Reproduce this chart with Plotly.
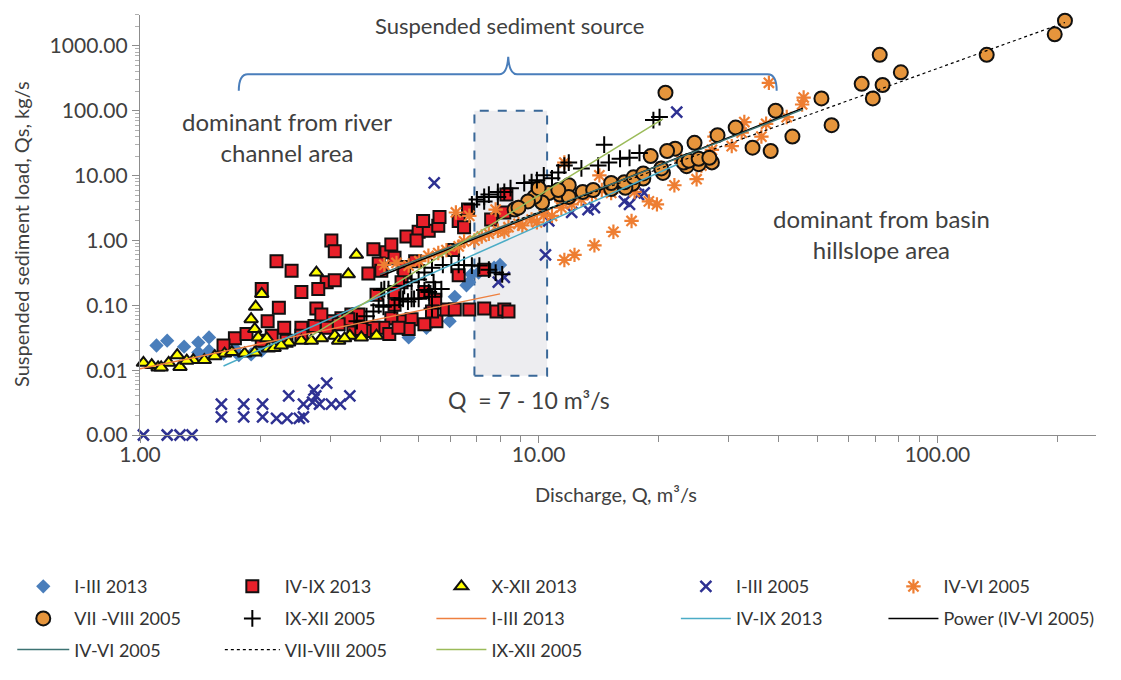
import plotly.graph_objects as go

# Discharge Q (m3/s) and suspended sediment load Qs (kg/s), one list of (Q, Qs) per period
i_iii_2013 = [(1.10, 0.024), (1.17, 0.0285), (1.29, 0.023), (1.40, 0.0266), (1.49, 0.032), (1.40, 0.0188),
              (1.49, 0.020), (1.62, 0.018), (1.73, 0.0216), (1.77, 0.017), (1.90, 0.0175), (2.02, 0.020),
              (4.72, 0.032), (5.23, 0.045), (5.98, 0.057), (6.16, 0.135), (6.59, 0.204), (6.69, 0.227),
              (6.78, 0.30), (7.07, 0.32), (7.73, 0.38), (8.0, 0.42)]

iv_ix_2013 = [(3.02, 1.0), (3.08, 0.68), (2.2, 0.48), (2.4, 0.34), (2.02, 0.178), (2.54, 0.16), (2.94, 0.227),
              (3.08, 0.243), (2.8, 0.178), (2.23, 0.092), (2.09, 0.057), (2.77, 0.089), (1.73, 0.031),
              (1.85, 0.036), (1.62, 0.024), (3.85, 0.73), (4.15, 0.66), (4.27, 0.87), (3.97, 0.44),
              (4.03, 0.34), (3.74, 0.31), (4.35, 0.54), (4.58, 0.39), (4.6, 0.32), (4.9, 0.48), (4.66, 1.15),
              (5.0, 1.36), (4.94, 1.0), (5.3, 1.41), (5.13, 2.0), (5.6, 1.68), (5.64, 2.3), (6.1, 0.71),
              (6.65, 3.0), (6.3, 2.0), (6.5, 1.6), (7.6, 2.1), (8.2, 2.7), (8.3, 5.1), (7.3, 0.355),
              (6.3, 0.29), (4.53, 0.227), (4.35, 0.16), (3.92, 0.145), (4.35, 0.102), (4.27, 0.063),
              (4.08, 0.045), (3.85, 0.045), (3.66, 0.040), (3.39, 0.072), (3.53, 0.072), (3.2, 0.063),
              (3.33, 0.061), (3.02, 0.057), (3.15, 0.051), (2.94, 0.045), (4.58, 0.057), (4.8, 0.061),
              (5.17, 0.051), (5.54, 0.057), (5.87, 0.086), (6.16, 0.086), (6.7, 0.086), (7.3, 0.089),
              (7.84, 0.080), (8.2, 0.086), (8.4, 0.080), (5.17, 0.16), (5.5, 0.122), (5.4, 0.080),
              (4.72, 0.043), (4.22, 0.036), (4.45, 0.045), (2.02, 0.0285), (2.3, 0.045), (2.54, 0.045),
              (2.74, 0.048), (2.85, 0.072), (2.54, 0.034), (2.33, 0.0285), (2.14, 0.034), (3.43, 0.038),
              (3.59, 0.043)]

x_xii_2013 = [(1.02, 0.013), (1.11, 0.011), (1.18, 0.013), (1.24, 0.017), (1.26, 0.0112), (1.36, 0.0143),
              (1.45, 0.0143), (2.02, 0.15), (1.95, 0.095), (1.9, 0.061), (1.94, 0.043), (1.98, 0.032),
              (2.08, 0.031), (2.77, 0.32), (3.33, 0.30), (2.36, 0.0266), (2.54, 0.0285), (2.85, 0.031),
              (3.08, 0.034), (3.36, 0.034), (1.63, 0.018), (1.83, 0.018), (1.94, 0.0188), (2.1, 0.0216),
              (2.17, 0.022), (3.49, 0.60), (3.15, 0.0285), (3.26, 0.031), (3.59, 0.032), (3.92, 0.034),
              (1.07, 0.012), (1.13, 0.011), (1.31, 0.014), (1.54, 0.0164), (1.7, 0.019), (2.26, 0.024),
              (2.69, 0.0285)]

i_iii_2005 = [(1.02, 0.001), (1.17, 0.001), (1.26, 0.001), (1.35, 0.001), (1.60, 0.0030), (1.60, 0.0019),
              (1.82, 0.0030), (1.82, 0.0019), (2.03, 0.0030), (2.03, 0.0019), (2.20, 0.0018), (2.34, 0.0018),
              (2.51, 0.0018), (2.36, 0.0040), (2.57, 0.0030), (2.57, 0.0019), (2.71, 0.0032), (2.73, 0.0049),
              (2.76, 0.0040), (2.94, 0.0063), (2.82, 0.0030), (3.02, 0.0030), (3.18, 0.0030), (3.36, 0.0040),
              (5.47, 7.7), (7.92, 0.227), (8.2, 0.27), (10.4, 0.60), (10.6, 2.0), (12.1, 2.7), (13.3, 3.0),
              (13.8, 3.2), (16.4, 4.0), (16.9, 3.6), (17.8, 5.1), (18.4, 5.4), (22.2, 95)]

iv_vi_2005 = [(4.72, 0.41), (5.02, 0.48), (5.29, 0.58), (5.6, 0.64), (5.87, 0.71), (6.3, 0.81), (6.5, 0.97),
              (6.9, 1.0), (7.5, 1.27), (7.9, 1.41), (8.4, 1.6), (8.9, 1.8), (9.6, 2.1), (10.3, 2.5), (11.4, 3.2),
              (12.1, 3.6), (6.2, 2.7), (6.7, 2.4), (7.8, 3.0), (8.9, 3.3), (11.4, 4.0), (11.6, 0.5), (12.3, 0.6),
              (13.8, 0.84), (15.4, 1.36), (17.1, 2.0), (19.8, 3.6), (11.6, 15.9), (14.2, 10.1), (15.2, 5.4),
              (17.4, 5.6), (18.9, 4.0), (21.9, 7.1), (25.6, 14.3), (27.6, 40), (32.8, 67), (37.8, 270),
              (45.8, 125), (46.2, 160), (37.2, 63), (32.3, 46), (27.2, 25), (24.9, 8.8), (7.2, 1.15),
              (8.2, 1.37), (9.1, 1.7), (9.9, 1.9), (10.8, 2.4), (12.8, 4.3), (13.6, 5.1), (14.4, 6.0),
              (16.1, 7.7), (18.1, 10.1), (20.3, 13.3), (22.8, 17), (30.5, 28.5), (36.2, 40), (41.9, 80),
              (4.1, 0.42), (4.4, 0.45)]

vii_viii_2005 = [(209, 2450), (197, 1510), (133, 730), (71.7, 730), (81, 392), (64.6, 260), (72.9, 250),
                 (68.9, 155), (51.2, 155), (54.3, 60), (43.3, 40), (39.3, 100), (20.8, 190), (34.4, 27),
                 (38.2, 24), (31.2, 55), (28.1, 42), (24.6, 32), (22.0, 26), (21.0, 24), (19.1, 20),
                 (27.2, 16), (25.2, 15), (23.5, 14), (20.5, 11), (18.3, 9), (17.2, 7.5), (16.5, 6.5),
                 (15.2, 6.2), (12.9, 5.6), (11.9, 7.1), (11.3, 5.1), (11.9, 4.7), (10.6, 5.4), (10.2, 3.85),
                 (9.76, 4.7), (8.7, 3.0), (9.4, 4.0), (8.9, 3.2), (10.0, 6.4), (11.2, 6.0), (13.7, 6.0),
                 (15.2, 7.7), (16.4, 7.9), (17.3, 9.4), (18.3, 10.8), (20.3, 12.9), (23.1, 15.9), (23.8, 17),
                 (25.2, 18.2), (26.8, 18.8)]

ix_xii_2005 = [(7.0, 4.3), (7.3, 4.7), (7.5, 5.1), (7.9, 5.6), (8.2, 5.6), (8.5, 6.4), (9.2, 7.7), (9.6, 7.9),
               (9.9, 8.5), (10.3, 10.1), (10.8, 9.1), (11.2, 11.2), (11.6, 14.3), (11.9, 15.9), (7.3, 4.0),
               (7.9, 4.7), (6.8, 3.6), (12.8, 12.9), (14.1, 14.3), (15.0, 15.9), (16.0, 18.2), (16.9, 18.8),
               (17.9, 22.4), (14.6, 30), (19.4, 72), (20.1, 80), (5.75, 0.42), (6.04, 0.42), (6.3, 0.42),
               (6.5, 0.42), (6.8, 0.41), (7.1, 0.41), (7.5, 0.355), (7.8, 0.32), (8.1, 0.30), (5.4, 0.38),
               (5.17, 0.32), (5.0, 0.25), (4.8, 0.227), (4.6, 0.2), (4.03, 0.172), (4.2, 0.178), (4.8, 0.126),
               (5.0, 0.126), (5.3, 0.16), (5.5, 0.178), (5.7, 0.178), (4.47, 0.122), (5.4, 0.135), (5.4, 0.089),
               (5.45, 0.227), (5.17, 0.172), (4.87, 0.126), (4.7, 0.114), (4.57, 0.126), (4.35, 0.1),
               (4.08, 0.095), (3.97, 0.1), (4.1, 0.178), (3.7, 0.068), (3.85, 0.08), (3.5, 0.057)]

# Power-law trend lines: end points (Q, Qs)
trend_i_iii_2013 = [(1.0, 0.0105), (8.0, 0.15)]
trend_iv_ix_2013 = [(1.62, 0.0116), (22.3, 15.0)]
power_iv_vi_2005 = [(4.0, 0.28), (46.0, 110.0)]
trend_iv_vi_2005 = [(4.0, 0.30), (46.0, 105.0)]
trend_vii_viii_2005 = [(8.5, 1.9), (209.0, 2300.0)]
trend_ix_xii_2005 = [(2.65, 0.032), (20.5, 75.0)]

# Axis ticks
x_major = [1, 10, 100]
x_major_text = ["1.00", "10.00", "100.00"]
x_minor = [2, 3, 4, 5, 6, 7, 8, 9, 20, 30, 40, 50, 60, 70, 80, 90, 200]
y_major = [0.001, 0.01, 0.1, 1, 10, 100, 1000]
y_major_text = ["0.00", "0.01", "0.10", "1.00", "10.00", "100.00", "1000.00"]
y_minor = [m * d for d in (0.001, 0.01, 0.1, 1, 10, 100, 1000) for m in range(2, 10) if m * d <= 3000]

FONT = "Lato, Carlito, Calibri, sans-serif"
TXT = "#404040"
AX = "#8C8C8C"

# plot-area pixel frame, used to place the free text, the brace and the legend entries
L_PX, R_PX, T_PX, B_PX = 138, 1096, 15, 447


def fx(px):
    return (px - L_PX) / (R_PX - L_PX)


def fy(py):
    return (B_PX - py) / (B_PX - T_PX)


def cols(pairs):
    return [p[0] for p in pairs], [p[1] for p in pairs]


# legend grid: column start x, symbol width, row centre y (pixels)
COL_X = [10, 218, 430, 675, 883]
COL_W = [52, 55, 50, 50, 50]
ROW_Y = [603, 636, 668]

fig = go.Figure()
legends = {}


def legend_slot(row, col):
    key = "legend" if not legends else f"legend{len(legends) + 1}"
    legends[key] = dict(orientation="v", xanchor="left", yanchor="middle",
                        x=fx(COL_X[col]), y=fy(ROW_Y[row]), itemwidth=COL_W[col],
                        bgcolor="rgba(0,0,0,0)", borderwidth=0,
                        font=dict(family=FONT, size=18, color="#333333"))
    return key


def add_points(pairs, name, marker, row, col):
    q, qs = cols(pairs)
    fig.add_trace(go.Scatter(x=q, y=qs, mode="markers", name=name, marker=marker,
                             legend=legend_slot(row, col), cliponaxis=False))


def add_trend(pairs, name, color, dash, row, col, width=1.5):
    q, qs = cols(pairs)
    fig.add_trace(go.Scatter(x=q, y=qs, mode="lines", name=name,
                             line=dict(color=color, width=width, dash=dash),
                             legend=legend_slot(row, col)))


add_points(i_iii_2013, "I-III 2013", dict(symbol="diamond", size=11, color="#4A7EBB"), 0, 0)
add_points(iv_ix_2013, "IV-IX 2013",
           dict(symbol="square", size=12, color="#E8202A", line=dict(color="#111111", width=2)), 0, 1)
add_points(x_xii_2013, "X-XII 2013",
           dict(symbol="triangle-up", size=12, color="#FFFF00", line=dict(color="#111111", width=2)), 0, 2)
add_points(i_iii_2005, "I-III 2005",
           dict(symbol="x-thin", size=11, color="#2E3192", line=dict(color="#2E3192", width=2.5)), 0, 3)
add_points(iv_vi_2005, "IV-VI 2005",
           dict(symbol="asterisk", size=12, color="#EE7E32", line=dict(color="#EE7E32", width=2.2)), 0, 4)
add_points(vii_viii_2005, "VII -VIII 2005",
           dict(symbol="circle", size=14, color="#E6953C", line=dict(color="#111111", width=2)), 1, 0)
add_points(ix_xii_2005, "IX-XII 2005",
           dict(symbol="cross-thin", size=12, color="#000000", line=dict(color="#000000", width=2)), 1, 1)

add_trend(trend_i_iii_2013, "I-III 2013", "#EE8040", "solid", 1, 2)
add_trend(trend_iv_ix_2013, "IV-IX 2013", "#4BACC6", "solid", 1, 3)
add_trend(power_iv_vi_2005, "Power (IV-VI 2005)", "#000000", "solid", 1, 4)
add_trend(trend_iv_vi_2005, "IV-VI 2005", "#3D7373", "solid", 2, 0)
add_trend(trend_vii_viii_2005, "VII-VIII 2005", "#000000", "dot", 2, 1, width=1.2)
add_trend(trend_ix_xii_2005, "IX-XII 2005", "#9BBB59", "solid", 2, 2)

# Q = 7 - 10 m3/s window
fig.add_shape(type="rect", xref="x", yref="y", x0=6.9, x1=10.5, y0=0.0082, y1=100,
              fillcolor="#EDEDF0", line=dict(color="#3A6898", width=2, dash="dash"), layer="below")

# curly brace over the source zones
brace = (f"M{fx(237)},{fy(93)} Q{fx(237)},{fy(76)} {fx(246)},{fy(76)} "
         f"L{fx(498)},{fy(76)} Q{fx(506)},{fy(76)} {fx(507)},{fy(58)} "
         f"Q{fx(508)},{fy(76)} {fx(516)},{fy(76)} L{fx(767)},{fy(76)} "
         f"Q{fx(776)},{fy(76)} {fx(776)},{fy(93)}")
fig.add_shape(type="path", xref="paper", yref="paper", path=brace,
              line=dict(color="#4A7EBB", width=2))


def note(text, px, py, size=23, angle=0):
    fig.add_annotation(text=text, xref="paper", yref="paper", x=fx(px), y=fy(py),
                       xanchor="center", yanchor="middle", showarrow=False, textangle=angle,
                       font=dict(family=FONT, size=size, color=TXT), align="center")


note("Suspended sediment source", 508, 26, size=22)
note("dominant from river<br>channel area", 285, 140, size=24)
note("dominant from basin<br>hillslope area", 881, 240, size=24)
note("Q\u00a0 = 7 - 10 m\u00b3/s", 528, 411, size=23)
note("Discharge, Q, m\u00b3/s", 615, 508, size=20)
note("Suspended sediment load, Qs, kg/s", 18, 240, size=20, angle=-90)

axis_common = dict(type="log", showgrid=False, zeroline=False, showline=True, linecolor=AX, linewidth=1.3,
                   ticks="outside", tickcolor=AX, ticklen=7, tickwidth=1.2,
                   tickfont=dict(family=FONT, size=21, color=TXT))
fig.update_xaxes(**axis_common, range=[0, 2.398], tickvals=x_major, ticktext=x_major_text,
                 ticklabelstandoff=-6,
                 minor=dict(tickvals=x_minor, ticks="outside", ticklen=6, tickcolor=AX, tickwidth=1.2))
fig.update_yaxes(**axis_common, range=[-3, 3.477], tickvals=y_major, ticktext=y_major_text,
                 minor=dict(tickvals=y_minor, ticks="outside", ticklen=4, tickcolor="#B0B0B0", tickwidth=1))

fig.update_layout(
    width=1121, height=680, autosize=False,
    margin=dict(l=L_PX, r=1121 - R_PX, t=T_PX, b=680 - B_PX),
    paper_bgcolor="white", plot_bgcolor="white",
    font=dict(family=FONT, color=TXT),
    showlegend=True,
    **legends,
)

fig.write_html("out.html")
